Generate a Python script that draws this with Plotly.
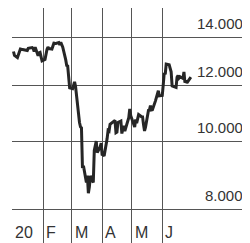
import math
import plotly.graph_objects as go

dates = [
    "2020-01-02","2020-01-03","2020-01-06","2020-01-07","2020-01-08","2020-01-09","2020-01-10",
    "2020-01-13","2020-01-14","2020-01-15","2020-01-16","2020-01-17","2020-01-20","2020-01-21",
    "2020-01-22","2020-01-23","2020-01-24","2020-01-27","2020-01-28","2020-01-29","2020-01-30",
    "2020-01-31",
    "2020-02-03","2020-02-04","2020-02-05","2020-02-06","2020-02-07","2020-02-10","2020-02-11",
    "2020-02-12","2020-02-13","2020-02-14","2020-02-17","2020-02-18","2020-02-19","2020-02-20",
    "2020-02-21","2020-02-24","2020-02-25","2020-02-26","2020-02-27","2020-02-28",
    "2020-03-02","2020-03-03","2020-03-04","2020-03-05","2020-03-06","2020-03-09","2020-03-10",
    "2020-03-11","2020-03-12","2020-03-13","2020-03-16","2020-03-17","2020-03-18","2020-03-19",
    "2020-03-20","2020-03-23","2020-03-24","2020-03-25","2020-03-26","2020-03-27","2020-03-30",
    "2020-03-31",
    "2020-04-01","2020-04-02","2020-04-03","2020-04-06","2020-04-07","2020-04-08","2020-04-09",
    "2020-04-14","2020-04-15","2020-04-16","2020-04-17","2020-04-20","2020-04-21","2020-04-22",
    "2020-04-23","2020-04-24","2020-04-27","2020-04-28","2020-04-29","2020-04-30",
    "2020-05-04","2020-05-05","2020-05-06","2020-05-07","2020-05-08","2020-05-11","2020-05-12",
    "2020-05-13","2020-05-14","2020-05-15","2020-05-18","2020-05-19","2020-05-20","2020-05-21",
    "2020-05-22","2020-05-25","2020-05-26","2020-05-27","2020-05-28","2020-05-29",
    "2020-06-01","2020-06-02","2020-06-03","2020-06-04","2020-06-05","2020-06-08","2020-06-09",
    "2020-06-10","2020-06-11","2020-06-12","2020-06-15","2020-06-16","2020-06-17","2020-06-18",
    "2020-06-19","2020-06-22","2020-06-23","2020-06-24","2020-06-25","2020-06-26","2020-06-29",
    "2020-06-30",
]

values = [
    13386, 13219, 13127, 13227, 13320, 13495, 13483,
    13452, 13456, 13432, 13429, 13526, 13549, 13556,
    13516, 13388, 13577, 13205, 13324, 13345, 13157,
    12982,
    13045, 13282, 13478, 13575, 13514, 13494, 13628,
    13750, 13745, 13744, 13784, 13681, 13789, 13664,
    13579, 13035, 12790, 12775, 12367, 11890,
    11858, 11985, 12127, 11945, 11542, 10625, 10475,
    10439, 9161, 9232, 8742, 8939, 8442, 8610,
    8929, 8741, 9701, 9874, 10001, 9633, 9816,
    9936,
    9545, 9571, 9526, 10075, 10357, 10333, 10565,
    10697, 10280, 10301, 10626, 10676, 10250, 10415,
    10514, 10336, 10660, 10796, 11108, 10862,
    10467, 10729, 10606, 10759, 10904, 10825, 10820,
    10543, 10337, 10465, 11059, 11075, 11224, 11066,
    11074, 11391, 11505, 11657, 11781, 11587,
    11600, 12021, 12487, 12431, 12848, 12820, 12643,
    12530, 11970, 11949, 11911, 12316, 12382, 12282,
    12331, 12263, 12524, 12094, 12178, 12089, 12232,
    12311,
]

month_ticks = ["2020-01-01", "2020-02-01", "2020-03-01", "2020-04-01", "2020-05-01", "2020-06-01"]
month_labels = ["20", "F", "M", "A", "M", "J"]

y_ticks = [8000, 10000, 12000, 14000]
y_labels = ["8.000", "10.000", "12.000", "14.000"]

font_family = "Liberation Sans, Arial, sans-serif"

fig = go.Figure()
fig.add_trace(go.Scatter(
    x=dates, y=values, mode="lines",
    line=dict(color="#262626", width=3),
    hoverinfo="skip", showlegend=False,
))

for d, lab in zip(month_ticks, month_labels):
    fig.add_annotation(
        x=d, y=0.045, xref="x", yref="paper", text=lab, showarrow=False,
        xanchor="left", yanchor="middle", xshift=1,
        font=dict(family=font_family, size=16, color="#333333"),
    )

for v, lab in zip(y_ticks, y_labels):
    fig.add_annotation(
        x=1, y=math.log10(v), xref="paper", yref="y", text=lab, showarrow=False,
        xanchor="right", yanchor="middle", yshift=14, xshift=-3,
        font=dict(family=font_family, size=15, color="#333333"),
    )

fig.update_layout(
    width=242, height=235,
    margin=dict(l=4, r=2, t=0, b=0),
    paper_bgcolor="white", plot_bgcolor="white",
    showlegend=False,
    xaxis=dict(
        type="date", range=["2019-12-31 12:00", "2020-08-27"],
        tickvals=month_ticks, showticklabels=False, ticks="",
        showgrid=True, gridcolor="#555555", gridwidth=1,
        zeroline=False, showline=False, automargin=False,
    ),
    yaxis=dict(
        type="log", range=[3.8561, 4.1881],
        tickvals=y_ticks, showticklabels=False, ticks="",
        showgrid=True, gridcolor="#555555", gridwidth=1,
        zeroline=False, showline=False, automargin=False,
    ),
)

fig.write_html("out.html")
